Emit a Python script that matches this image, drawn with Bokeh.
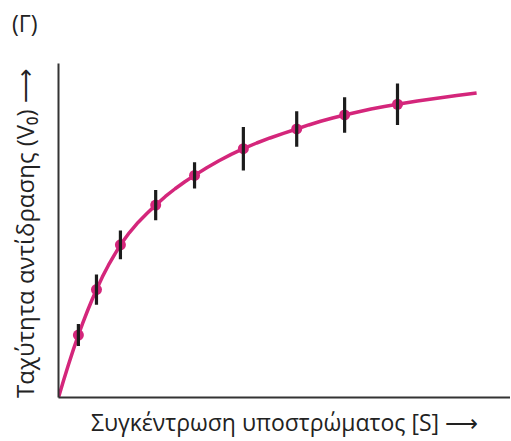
from bokeh.plotting import figure
from bokeh.models import Range1d, ColumnDataSource, FixedTicker, Div
from bokeh.layouts import column
from bokeh.embed import file_html
from bokeh.resources import INLINE

# substrate concentration [S] (arbitrary units) and reaction velocity V0
s_points = [0.44, 0.84, 1.37, 2.15, 3.01, 4.09, 5.27, 6.33, 7.50]
v_points = [18.7, 32.3, 45.7, 57.6, 66.5, 74.5, 80.4, 84.6, 87.8]
v_err = [3.3, 4.5, 4.3, 4.5, 3.9, 6.5, 5.3, 5.3, 6.2]

# saturation curve
s_curve = [0, 0.11, 0.22, 0.33, 0.44, 0.54, 0.64, 0.74, 0.84, 0.97, 1.105,
           1.24, 1.37, 1.565, 1.76, 1.955, 2.15, 2.365, 2.58, 2.795, 3.01,
           3.28, 3.55, 3.82, 4.09, 4.385, 4.68, 4.975, 5.27, 5.535, 5.8,
           6.065, 6.33, 6.62, 6.915, 7.21, 7.5, 7.94, 8.375, 8.81, 9.25]
v_curve = [0, 5.0, 9.8, 14.4, 18.7, 22.4, 25.9, 29.2, 32.3, 36.1, 39.6,
           42.8, 45.7, 49.3, 52.4, 55.1, 57.6, 60.2, 62.5, 64.6, 66.5,
           68.8, 70.9, 72.8, 74.5, 76.2, 77.7, 79.1, 80.4, 81.6, 82.7,
           83.7, 84.6, 85.5, 86.4, 87.1, 87.8, 88.8, 89.6, 90.4, 91.2]

panel_title = "(Γ)"
x_title = "Συγκέντρωση υποστρώματος [S] ⟶"
y_title = "Ταχύτητα αντίδρασης (V₀)  ⟶"

MAGENTA = "#D4267B"
DARK = "#1c1c1c"
FONT = "Open Sans"

# panel letter above the chart
header = Div(
    text=('<div style="margin:0;padding:12px 0 0 12px;font-family:\'Open Sans\';'
          'font-size:23px;line-height:1;color:#222222;">' + panel_title + '</div>'),
    width=510, height=55, margin=0)

p = figure(width=510, height=385, output_backend="svg", toolbar_location=None,
           x_range=Range1d(0, 10), y_range=Range1d(0, 100),
           min_border_left=58, min_border_right=0, min_border_top=8,
           min_border_bottom=40)
p.outline_line_color = None
p.grid.visible = False

for ax in (p.xaxis, p.yaxis):
    ax.ticker = FixedTicker(ticks=[])
    ax.major_tick_line_color = None
    ax.minor_tick_line_color = None
    ax.major_tick_out = 0
    ax.major_tick_in = 0
    ax.major_label_standoff = 0
    ax.axis_line_color = "#333333"
    ax.axis_line_width = 2
    ax.axis_label_text_font = FONT
    ax.axis_label_text_font_style = "normal"
    ax.axis_label_text_color = "#222222"

p.xaxis.axis_label = x_title
p.xaxis.axis_label_text_font_size = "23px"
p.xaxis.axis_label_standoff = 8
p.yaxis.axis_label = y_title
p.yaxis.axis_label_text_font_size = "24px"
p.yaxis.axis_label_standoff = 18

p.line(s_curve, v_curve, line_color=MAGENTA, line_width=3.5, line_join="round")

src = ColumnDataSource(dict(
    s=s_points, v=v_points,
    lo=[v - e for v, e in zip(v_points, v_err)],
    hi=[v + e for v, e in zip(v_points, v_err)],
))
p.scatter("s", "v", source=src, size=11, fill_color=MAGENTA, line_color=None)
p.segment(x0="s", y0="lo", x1="s", y1="hi", source=src,
          line_color=DARK, line_width=3.2)

layout = column(header, p, spacing=0)
open("out.html", "w").write(file_html(layout, INLINE))
